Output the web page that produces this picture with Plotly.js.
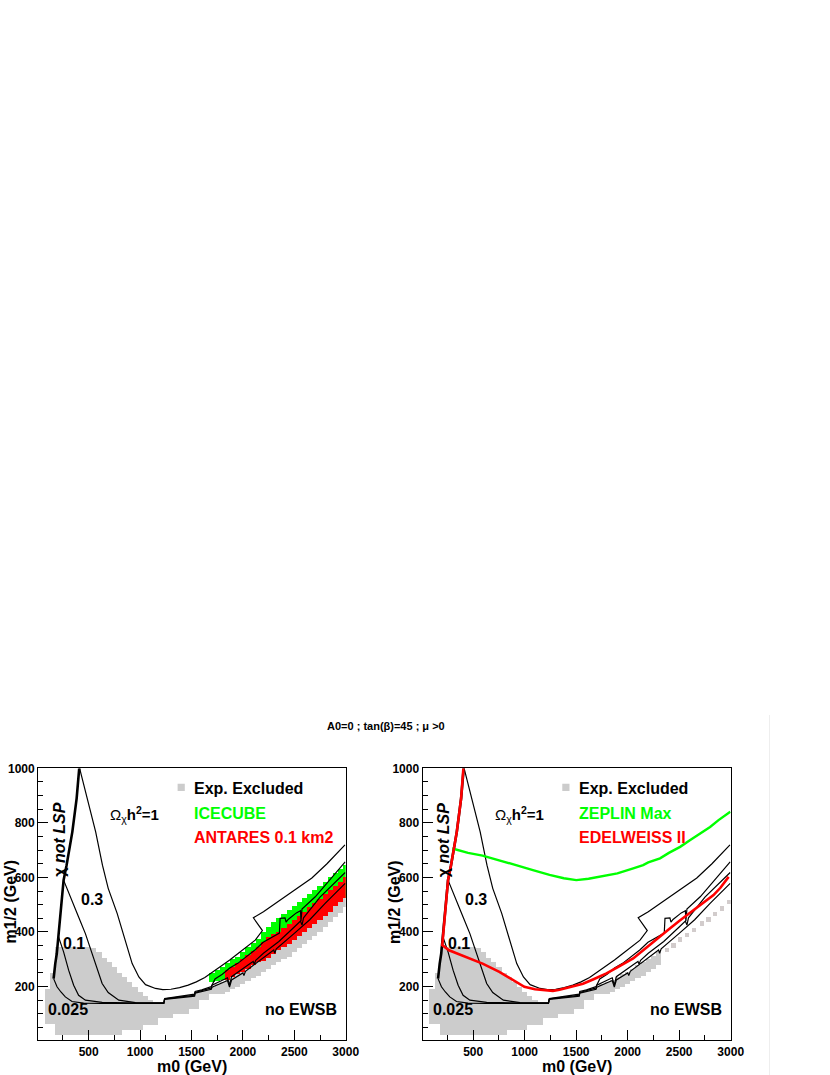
<!DOCTYPE html>
<html lang="en">

<head>
    <meta charset="UTF-8">
    <title>A0=0 ; tan(beta)=45 ; mu &gt; 0</title>
    <script src="https://cdn.plot.ly/plotly-3.0.1.min.js"></script>
    <style>
        body {
            margin: 0;
            padding: 0;
            background: white;
        }

        #plot {
            width: 830px;
            height: 1075px;
        }
    </style>
</head>

<body>
    <div id="plot"></div>

    <script>
        // ---- values (m0, m1/2 in GeV) ----

        // experimentally excluded cells, same in both panels (50 GeV columns)
        const greyM0 = [100, 150, 200, 250, 300, 350, 400, 450, 500, 550, 600, 650, 700, 750, 800,
            850, 900, 950, 1000, 1050, 1100, 1150, 1200, 1250, 1300, 1350, 1400, 1450, 1500, 1550,
            1600, 1650, 1700, 1750, 1800, 1850, 1900, 1950, 2000, 2050, 2100, 2150, 2200, 2250, 2300];
        const greyLo = [64, 64, 21, 21, 21, 21, 21, 21, 21, 21, 21, 21, 21, 21, 21,
            40, 40, 40, 40, 58, 58, 58, 83, 83, 83, 101, 101, 101, 119, 119,
            150, 150, 174, 174, 174, 180, 190, 200, 210, 220, 230, 240, 255, 265, 280];
        const greyHi = [190, 250, 345, 345, 345, 345, 345, 345, 345, 340, 325, 305, 290, 270, 250,
            235, 215, 200, 180, 165, 150, 145, 145, 155, 158, 160, 162, 165, 170, 180,
            185, 190, 200, 210, 215, 225, 235, 245, 255, 265, 278, 290, 300, 312, 325];

        // left panel: excluded band continues under the coloured cells
        const greyTailM0 = [2350, 2400, 2450, 2500, 2550, 2600, 2650, 2700, 2750, 2800, 2850, 2900, 2950, 3000];
        const greyTailLo = [290, 300, 310, 325, 340, 355, 370, 385, 400, 420, 435, 455, 470, 490];
        const greyTailHi = [335, 345, 355, 370, 385, 400, 415, 430, 445, 460, 475, 495, 510, 525];

        // right panel: isolated excluded cells along the diagonal
        const squareM0 = [2380, 2445, 2510, 2575, 2640, 2720, 2785, 2850, 2915, 2980];
        const squareM = [333, 351, 372, 390, 407, 431, 446, 466, 486, 510];

        // ICECUBE cells (left panel)
        const iceM0 = [1700, 1750, 1800, 1850, 1900, 1950, 2000, 2050, 2100, 2150, 2200, 2250, 2300, 2350,
            2400, 2450, 2500, 2550, 2600, 2650, 2700, 2750, 2800, 2850, 2900, 2950, 3000];
        const iceLo = [215, 220, 225, 230, 235, 245, 255, 265, 278, 290, 295, 305, 318, 335,
            345, 355, 370, 385, 400, 415, 430, 445, 460, 475, 495, 510, 525];
        const iceHi = [250, 260, 270, 285, 300, 310, 325, 345, 360, 375, 400, 420, 435, 450,
            465, 480, 495, 510, 525, 540, 555, 570, 585, 600, 615, 630, 645];

        // ANTARES 0.1 km2 cells (left panel)
        const antM0 = [1850, 1900, 1950, 2000, 2050, 2100, 2150, 2200, 2250, 2300, 2350, 2400,
            2450, 2500, 2550, 2600, 2650, 2700, 2750, 2800, 2850, 2900, 2950, 3000];
        const antLo = [225, 235, 245, 255, 265, 278, 290, 295, 305, 318, 335, 345,
            355, 370, 385, 400, 415, 430, 445, 460, 475, 495, 510, 525];
        const antHi = [260, 270, 285, 300, 315, 330, 345, 365, 380, 392, 400, 415,
            430, 445, 460, 475, 490, 505, 520, 540, 555, 570, 585, 600];

        // chi not LSP boundary
        const lspM0 = [408, 383, 341, 315, 285, 256, 240, 224, 212, 205, 190, 175, 162, 159];
        const lspM = [1000, 890, 767, 706, 645, 590, 517, 468, 410, 370, 321, 284, 240, 229];

        // relic density contours
        const om1M0 = [412, 487, 568, 634, 690, 777, 826, 874, 923, 988, 1053, 1150, 1221, 1300, 1384,
            1468, 1547, 1630, 1709, 1794, 1872, 1950, 2035, 2120, 2190, 2102, 2200, 2346, 2500,
            2671, 2818, 2993];
        const om1M = [1000, 890, 767, 645, 560, 468, 407, 345, 284, 235, 207, 193, 189, 190, 196,
            205, 217, 233, 254, 274, 297, 320, 345, 370, 405, 452, 474, 512, 552,
            598, 650, 719];

        const om03M0 = [256, 338, 402, 468, 533, 556, 582, 631, 690, 793, 955, 1100, 1231, 1240,
            1400, 1530, 1535, 1600, 1693, 1729, 1800, 1872, 1950, 2035, 2120, 2197, 2314, 2355,
            2362, 2410, 2420, 2440, 2520, 2560, 2565, 2575, 2704, 2850, 2995];
        const om03M = [590, 517, 455, 394, 321, 297, 260, 211, 178, 150, 141, 140, 140, 156,
            166, 172, 182, 188, 200, 228, 245, 268, 285, 310, 335, 362, 388, 396,
            450, 452, 436, 446, 470, 478, 440, 484, 529, 592, 657];

        const om01M0 = [207, 256, 305, 354, 402, 468, 631, 800, 1000, 1231, 1240, 1400, 1530, 1535,
            1693, 1700, 1800, 1850, 1870, 1890, 2053, 2100, 2110, 2125, 2200, 2350, 2500, 2560,
            2575, 2590, 2750, 2900, 2995];
        const om01M = [382, 327, 260, 205, 168, 150, 142, 140, 139, 139, 155, 162, 168, 178,
            195, 205, 222, 232, 205, 236, 280, 292, 282, 296, 322, 365, 418, 440,
            425, 452, 528, 585, 618];

        const om0025M0 = [159, 192, 230, 273, 338, 450, 630, 900, 1231, 1238, 1400, 1530, 1535, 1693,
            1700, 1800, 1850, 1870, 1890, 2000, 2010, 2025, 2200, 2300, 2310, 2325, 2500, 2650,
            2800, 2995];
        const om0025M = [229, 199, 180, 162, 145, 139, 138, 138, 138, 153, 160, 165, 176, 190,
            198, 215, 222, 198, 224, 250, 240, 256, 305, 334, 322, 338, 395, 445,
            505, 578];

        // direct detection limits (right panel)
        const zeplinM0 = [298, 450, 591, 750, 916, 1080, 1241, 1380, 1501, 1620, 1729, 1900, 2054, 2150,
            2200, 2314, 2400, 2509, 2600, 2704, 2800, 2882, 2996];
        const zeplinM = [706, 690, 680, 664, 645, 627, 609, 597, 590, 595, 602, 615, 633, 645,
            655, 670, 690, 712, 735, 761, 785, 810, 841];

        const edelM0 = [405, 383, 341, 315, 285, 256, 240, 224, 212, 200, 266, 428, 591, 754, 916,
            997, 1100, 1176, 1274, 1339, 1468, 1566, 1663, 1794, 1900, 1989, 2053, 2151, 2297,
            2400, 2500, 2638, 2704, 2833, 2900, 2980];
        const edelM = [1000, 890, 767, 706, 645, 590, 517, 468, 410, 352, 333, 309, 284, 254, 217,
            199, 190, 187, 184, 188, 199, 210, 226, 248, 270, 290, 303, 333, 380,
            410, 440, 478, 498, 535, 562, 602];

        const xTicks = [500, 1000, 1500, 2000, 2500, 3000];
        const yTicks = [200, 400, 600, 800, 1000];

        // ---- drawing ----
        const FONT = 'Liberation Sans, Arial, Helvetica, sans-serif';
        const W = 830, H = 1075;
        const GREY = '#cccccc';
        const GREEN = '#00ff00';
        const RED = '#ff0000';

        // pixel boxes of the two frames
        const panels = [
            {xa: 'x', ya: 'y', left: 38.3, right: 345.7},
            {xa: 'x2', ya: 'y2', left: 422.7, right: 730.7}
        ];
        const frameTop = 768.3, frameBottom = 1040;

        function px(x) { return x / W; }
        function py(y) { return 1 - y / H; }

        function cells(m0, lo, hi, color, width, p) {
            return {
                type: 'bar',
                x: m0,
                base: lo,
                y: hi.map((h, i) => h - lo[i]),
                width: width,
                marker: {color: color, line: {width: 0}},
                xaxis: p.xa,
                yaxis: p.ya,
                hoverinfo: 'skip',
                showlegend: false
            };
        }

        function curve(m0, m, color, width, p) {
            return {
                type: 'scatter',
                mode: 'lines',
                x: m0,
                y: m,
                line: {color: color, width: width},
                xaxis: p.xa,
                yaxis: p.ya,
                hoverinfo: 'skip',
                showlegend: false
            };
        }

        function contours(p) {
            return [
                curve(om1M0, om1M, 'black', 1.2, p),
                curve(om03M0, om03M, 'black', 1.2, p),
                curve(om01M0, om01M, 'black', 1.2, p),
                curve(om0025M0, om0025M, 'black', 1.2, p),
                curve(lspM0, lspM, 'black', 2.6, p)
            ];
        }

        const L = panels[0], R = panels[1];
        const traces = [];

        // left panel
        traces.push(cells(greyM0, greyLo, greyHi, GREY, 50, L));
        traces.push(cells(greyTailM0, greyTailLo, greyTailHi, GREY, 50, L));
        traces.push(cells(iceM0, iceLo, iceHi, GREEN, 50, L));
        traces.push(cells(antM0, antLo, antHi, RED, 50, L));
        traces.push(...contours(L));

        // right panel
        traces.push(cells(greyM0, greyLo, greyHi, GREY, 50, R));
        traces.push(cells(squareM0, squareM.map(v => v - 8), squareM.map(v => v + 8), '#d2cccc', 40, R));
        traces.push(...contours(R));
        traces.push(curve(zeplinM0, zeplinM, GREEN, 2.4, R));
        traces.push(curve(edelM0, edelM, RED, 2.6, R));

        function xAxis(p) {
            return {
                domain: [px(p.left), px(p.right)],
                anchor: p.ya,
                range: [10, 3000],
                tickmode: 'array',
                tickvals: xTicks,
                ticktext: xTicks.map(String),
                ticks: 'inside',
                ticklen: 10,
                tickwidth: 1,
                tickcolor: 'black',
                minor: {tickmode: 'linear', tick0: 0, dtick: 250, ticks: 'inside', ticklen: 5, tickcolor: 'black', showgrid: false},
                showline: true,
                linecolor: 'black',
                linewidth: 1.2,
                mirror: true,
                showgrid: false,
                zeroline: false,
                fixedrange: true,
                tickfont: {family: FONT, size: 12, color: 'black', weight: 'bold'}
            };
        }

        function yAxis(p) {
            return {
                domain: [py(frameBottom), py(frameTop)],
                anchor: p.xa,
                range: [4, 1000],
                tickmode: 'array',
                tickvals: yTicks,
                ticktext: yTicks.map(String),
                ticks: 'inside',
                ticklen: 10,
                tickwidth: 1,
                tickcolor: 'black',
                minor: {tickmode: 'linear', tick0: 0, dtick: 50, ticks: 'inside', ticklen: 5, tickcolor: 'black', showgrid: false},
                showline: true,
                linecolor: 'black',
                linewidth: 1.2,
                mirror: true,
                showgrid: false,
                zeroline: false,
                fixedrange: true,
                tickfont: {family: FONT, size: 12, color: 'black', weight: 'bold'}
            };
        }

        function label(p, text, m0, m, size, opts) {
            return Object.assign({
                xref: p.xa,
                yref: p.ya,
                x: m0,
                y: m,
                text: text,
                showarrow: false,
                xanchor: 'center',
                yanchor: 'middle',
                font: {family: FONT, size: size, color: 'black'}
            }, opts || {});
        }

        function panelLabels(p, legend2, legend3) {
            return [
                label(p, '<b>Exp. Excluded</b>', 1508, 925, 16, {xanchor: 'left'}),
                label(p, '<b>' + legend2 + '</b>', 1508, 833, 16, {xanchor: 'left', font: {family: FONT, size: 16, color: GREEN}}),
                label(p, '<b>' + legend3 + '</b>', 1508, 745, 16, {xanchor: 'left', font: {family: FONT, size: 16, color: RED}}),
                label(p, 'Ω<sub>χ</sub><b>h<sup>2</sup>=1</b>', 946, 829, 15),
                label(p, '<b>0.3</b>', 531, 520, 16),
                label(p, '<b>0.1</b>', 361, 359, 16),
                label(p, '<b>0.025</b>', 302, 117, 16),
                label(p, '<b>no EWSB</b>', 2564, 117, 16),
                label(p, '<b>χ <i>not LSP</i></b>', 208, 737, 16, {textangle: -90})
            ];
        }

        function paperText(text, x, y, size, angle) {
            return {
                xref: 'paper',
                yref: 'paper',
                x: px(x),
                y: py(y),
                text: text,
                showarrow: false,
                xanchor: 'center',
                yanchor: 'middle',
                textangle: angle || 0,
                font: {family: FONT, size: size, color: 'black'}
            };
        }

        const annotations = [
            ...panelLabels(L, 'ICECUBE', 'ANTARES 0.1 km2'),
            ...panelLabels(R, 'ZEPLIN Max', 'EDELWEISS II'),
            paperText('<b>A0=0 ; tan(β)=45 ; μ &gt;0</b>', 386, 726, 11),
            paperText('<b>m0 (GeV)</b>', 192, 1066, 16),
            paperText('<b>m0 (GeV)</b>', 576.7, 1066, 16),
            paperText('<b>m1/2 (GeV)</b>', 9.5, 902, 16, -90),
            paperText('<b>m1/2 (GeV)</b>', 394, 902, 16, -90)
        ];

        // legend swatches for the excluded region and the faint canvas edge
        const shapes = panels.map(p => ({
            type: 'rect',
            xref: p.xa,
            yref: p.ya,
            x0: 1365, x1: 1435, y0: 917, y1: 943,
            fillcolor: GREY,
            line: {width: 0}
        }));
        shapes.push({
            type: 'line',
            xref: 'paper', yref: 'paper',
            x0: px(769.5), x1: px(769.5), y0: 0, y1: py(715),
            line: {color: '#eeeeee', width: 1}
        });

        const layout = {
            width: W,
            height: H,
            margin: {l: 0, r: 0, t: 0, b: 0},
            paper_bgcolor: 'white',
            plot_bgcolor: 'white',
            barmode: 'overlay',
            bargap: 0,
            showlegend: false,
            xaxis: xAxis(L),
            yaxis: yAxis(L),
            xaxis2: xAxis(R),
            yaxis2: yAxis(R),
            annotations: annotations,
            shapes: shapes
        };

        Plotly.newPlot('plot', traces, layout, {displayModeBar: false, staticPlot: true});
    </script>
</body>

</html>
